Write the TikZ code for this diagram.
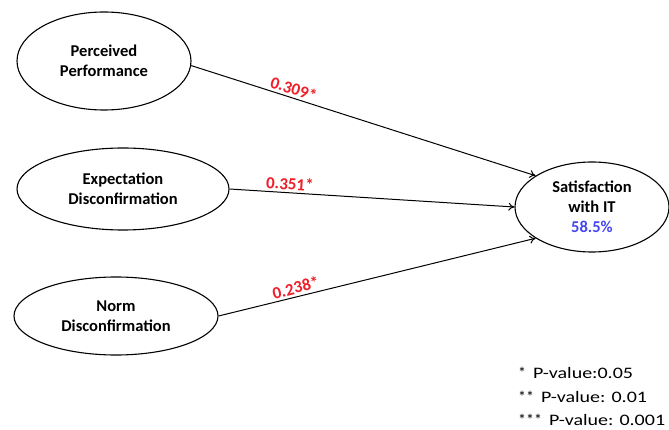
\documentclass[tikz,border=0pt]{standalone}
\usepackage{fontspec}
\setmainfont{Carlito}
\newfontfamily\legendfont[FakeStretch=1.25]{Carlito}
\usetikzlibrary{shapes.geometric,arrows.meta}
\definecolor{labred}{RGB}{240,30,40}
\definecolor{labblue}{RGB}{70,70,240}
\newcommand{\legstars}[1]{{\fontspec{Carlito}\fontsize{16}{18}\selectfont #1}\hspace{7pt}}
\begin{document}
\begin{tikzpicture}[x=1pt,y=-1pt,
  construct/.style={draw,ellipse,line width=1.1pt,inner sep=0pt,align=center,
    font=\fontsize{16.5}{20}\selectfont\bfseries},
  path/.style={line width=1pt,-{To[length=6pt,width=8pt]}},
  coef/.style={sloped,above,inner sep=2.5pt,text=labred,font=\fontsize{17}{19}\selectfont\bfseries},
  legend/.style={anchor=base west,inner sep=0pt,font=\legendfont\fontsize{16}{18}\selectfont}]
\useasboundingbox (0,0) rectangle (669,430);
\node[construct,minimum width=174pt,minimum height=98pt] (pp) at (104,61) {Perceived\\Performance};
\node[construct,minimum width=212pt,minimum height=82pt] (ed) at (123,189) {Expectation\\Disconfirmation};
\node[construct,minimum width=204pt,minimum height=78pt] (nd) at (116,316) {Norm\\Disconfirmation};
\node[construct,minimum width=154pt,minimum height=90pt] (sat) at (592,207) {Satisfaction\\with IT\\\textcolor{labblue}{58.5\%}};
\draw[path] (pp.-3) -- node[coef,pos=0.29] {0.309*} (sat.151);
\draw[path] (ed.east) -- node[coef,pos=0.21] {0.351*} (sat.west);
\draw[path] (nd.east) -- node[coef,pos=0.25] {0.238*} (sat.209);
\node[legend] (l1) at (518,378) {\legstars{*}P-value:0.05};
\node[legend] (l2) at (518,402) {\legstars{**}P-value: 0.01};
\node[legend] (l3) at (518,425) {\legstars{***}P-value: 0.001};
\end{tikzpicture}
\end{document}
